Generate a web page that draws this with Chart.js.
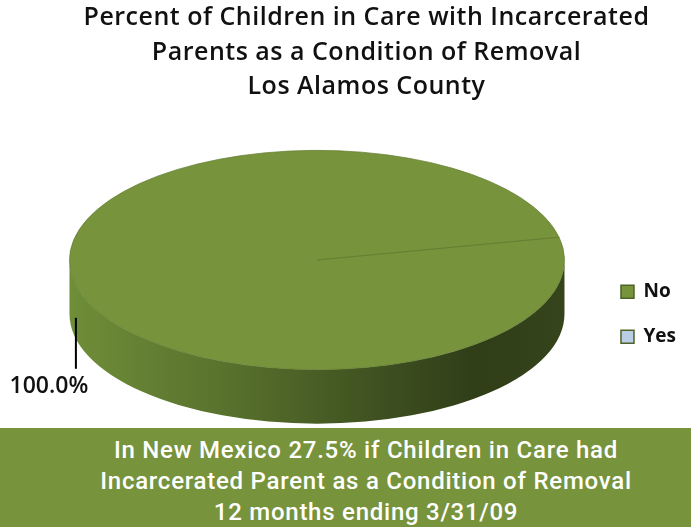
<!DOCTYPE html>
<html>
<head>
<meta charset="utf-8">
<script src="https://cdn.jsdelivr.net/npm/chart.js@4.4.1/dist/chart.umd.min.js"></script>
<style>
  body { margin: 0; background: #fff; }
  #wrap { position: relative; width: 691px; height: 527px; overflow: hidden; }
  #myChart { position: absolute; left: 0; top: 0; }
  .title { position: absolute; left: 42px; top: -2px; width: 649px; text-align: center;
    font-family: "Open Sans", Lato, sans-serif; font-weight: 600; font-size: 25px; letter-spacing: 0.5px;
    line-height: 34.5px; color: #111; }
  .band { position: absolute; left: 0; top: 428px; width: 691px; height: 99px; background: #77933c; }
  .band div { position: absolute; left: 41px; top: 7px; width: 650px; text-align: center; color: #fff;
    font-family: Roboto, "Liberation Sans", sans-serif; font-weight: 500; font-size: 24px; letter-spacing: 0.75px;
    line-height: 31px; }
</style>
</head>
<body>
<div id="wrap">
  <canvas id="myChart" width="691" height="527"></canvas>
  <div class="title">Percent of Children in Care with Incarcerated<br>Parents as a Condition of Removal<br>Los Alamos County</div>
  <div class="band"><div>In New Mexico 27.5% if Children in Care had<br>Incarcerated Parent as a Condition of Removal<br>12 months ending 3/31/09</div></div>
</div>
<script>
const categories = ['No', 'Yes']
const percents = [100.0, 0.0]
const sliceColors = ['#77933c', '#b9cde5']

// look of the 3d disc
const tilt = 0.443
const depth = 54

const pie3d = {
    id: 'pie3d',
    beforeDatasetsDraw(chart){
        const arc = chart.getDatasetMeta(0).data[0]
        const {x, y, outerRadius: r} = arc
        const ry = r * tilt
        const ctx = chart.ctx
        const g = ctx.createLinearGradient(x - r, 0, x + r, 0)
        g.addColorStop(0, '#6f8e38')
        g.addColorStop(0.35, '#566e2c')
        g.addColorStop(0.6, '#405321')
        g.addColorStop(0.82, '#303e18')
        g.addColorStop(1, '#35441b')
        ctx.save()
        ctx.beginPath()
        ctx.ellipse(x, y + depth, r, ry, 0, 0, Math.PI)
        ctx.lineTo(x - r, y)
        ctx.ellipse(x, y, r, ry, 0, Math.PI, 0, true)
        ctx.closePath()
        ctx.fillStyle = g
        ctx.fill()
        ctx.restore()

        // squash the pie into the top face
        ctx.save()
        ctx.translate(x, y)
        ctx.scale(1, tilt)
        ctx.translate(-x, -y)
    },
    afterDatasetsDraw(chart){
        const ctx = chart.ctx
        ctx.restore()

        const arc = chart.getDatasetMeta(0).data[0]
        const {x, y, outerRadius: r, startAngle, endAngle} = arc
        const mid = (startAngle + endAngle) / 2
        const ex = x + r * Math.cos(mid)
        const ey = y + r * tilt * Math.sin(mid)
        const lx = ex + 1
        ctx.save()
        ctx.strokeStyle = '#000'
        ctx.lineWidth = 2
        ctx.beginPath()
        ctx.moveTo(lx, ey + 35)
        ctx.lineTo(lx, ey + 86)
        ctx.stroke()
        ctx.fillStyle = '#111'
        ctx.font = '600 23px "Open Sans", sans-serif'
        ctx.textAlign = 'center'
        ctx.textBaseline = 'middle'
        ctx.fillText(percents[0].toFixed(1) + '%', lx - 27, ey + 104)
        ctx.restore()
    }
}

const info = {
    labels: categories,
    datasets: [{
        data: percents,
        backgroundColor: sliceColors,
        borderColor: ['#667f33', '#667f33'],
        borderWidth: 1,
        hoverOffset: 0,
        offset: 0
    }]
}

const options = {
    responsive: false,
    animation: false,
    events: [],
    rotation: 78,
    layout: { padding: { top: 12, bottom: 19, left: 39, right: 5 } },
    plugins: {
        tooltip: { enabled: false },
        legend: {
            position: 'right',
            title: { display: true, text: ' ', font: { size: 12 }, padding: { top: 47, bottom: 47 } },
            labels: {
                boxWidth: 13,
                boxHeight: 13,
                padding: 26,
                color: '#111',
                font: { family: '"Open Sans"', size: 19, weight: 700 },
                generateLabels: chart => Chart.overrides.pie.plugins.legend.labels.generateLabels(chart)
                    .map(l => ({ ...l, strokeStyle: '#4f6228', lineWidth: 1.5 }))
            }
        }
    }
}

const config = {
    type: 'pie',
    data: info,
    options,
    plugins: [pie3d]
}

const myChart = new Chart(document.getElementById('myChart'), config)
</script>
</body>
</html>
